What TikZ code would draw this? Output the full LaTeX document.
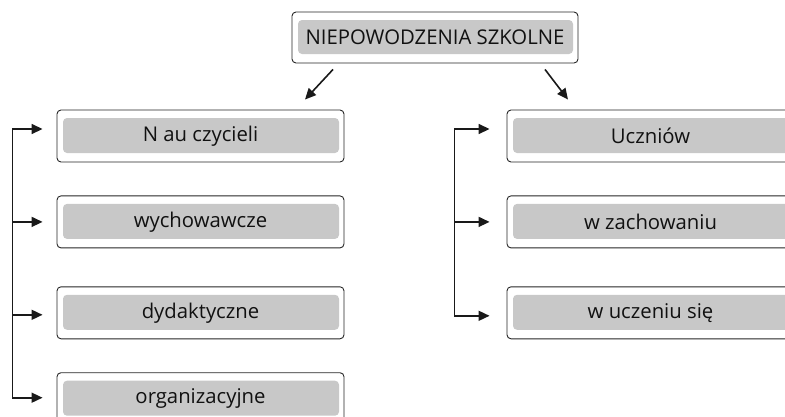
\documentclass[tikz,border=0pt]{standalone}
\usepackage{fontspec}
\setmainfont{Open Sans}
\definecolor{bx}{HTML}{C8C8C8}
\definecolor{tx}{HTML}{111111}
\usetikzlibrary{
  arrows.meta,     % triangle tips
  positioning      % below=of
}
\tikzset{
    node distance=33pt,
    box/.style = {
        draw=black!85,
        line width=0.9pt,
        rounded corners=4pt,
        minimum width=287pt,
        minimum height=52pt,
        text=tx,
        font=\fontsize{20.3}{22}\selectfont,
        path picture={
            \fill[bx] ([shift={(6pt,-8pt)}]path picture bounding box.north west)
                rectangle ([shift={(-5pt,9pt)}]path picture bounding box.south east);
        }
    },
    conn/.style = {line width=1.6pt, black!90},
    arr/.style = {conn, -{Triangle[length=11pt,width=10pt]}}
}

\begin{document}
\begin{tikzpicture}[x=1pt,y=-1pt]
  \useasboundingbox (0,0) rectangle (785,416);

  %% top
  \node [box, minimum width=286pt, minimum height=51pt] (top) at (435,37.5) {NIEPOWODZENIA SZKOLNE};

  %% left column
  \node [box] (L1) at (200.5,136) {N au czycieli};
  \node [box, below=of L1] (L2) {wychowawcze};
  \node [box, below=of L2, yshift=-5pt] (L3) {dydaktyczne};
  \node [box, below=of L3] (L4) {organizacyjne};

  %% right column
  \node [box] (R1) at (650.5,136) {Uczniów};
  \node [box, below=of R1] (R2) {w zachowaniu};
  \node [box, below=of R2, yshift=-5pt] (R3) {w uczeniu się};

  %% from the top
  \draw [arr] ([xshift=-102pt,yshift=-6pt]top.south) -- ([xshift=104.5pt,yshift=10pt]L1.north);
  \draw [arr] ([xshift=110pt,yshift=-6pt]top.south) -- ([xshift=-82.5pt,yshift=10pt]R1.north);

  %% left bracket
  \coordinate (lt) at ([xshift=-44pt,yshift=7pt]L1.west);
  \coordinate (lb) at ([xshift=-44pt,yshift=1pt]L4.west);
  \draw [arr] (lb) -- (lt) -- ([xshift=-14pt,yshift=7pt]L1.west);
  \draw [arr] (lt) -- (lb) -- ([xshift=-14pt,yshift=1pt]L4.west);
  \draw [arr] (lt |- L2.west) -- ([xshift=-14pt]L2.west);
  \draw [arr] ([yshift=-2pt]lt |- L3.west) -- ([xshift=-14pt,yshift=-2pt]L3.west);

  %% right bracket
  \coordinate (rt) at ([xshift=-52pt,yshift=7pt]R1.west);
  \coordinate (rb) at ([xshift=-52pt,yshift=-3pt]R3.west);
  \draw [arr] (rb) -- (rt) -- ([xshift=-17pt,yshift=7pt]R1.west);
  \draw [arr] (rt) -- (rb) -- ([xshift=-17pt,yshift=-3pt]R3.west);
  \draw [arr] (rt |- R2.west) -- ([xshift=-17pt]R2.west);

\end{tikzpicture}
\end{document}
